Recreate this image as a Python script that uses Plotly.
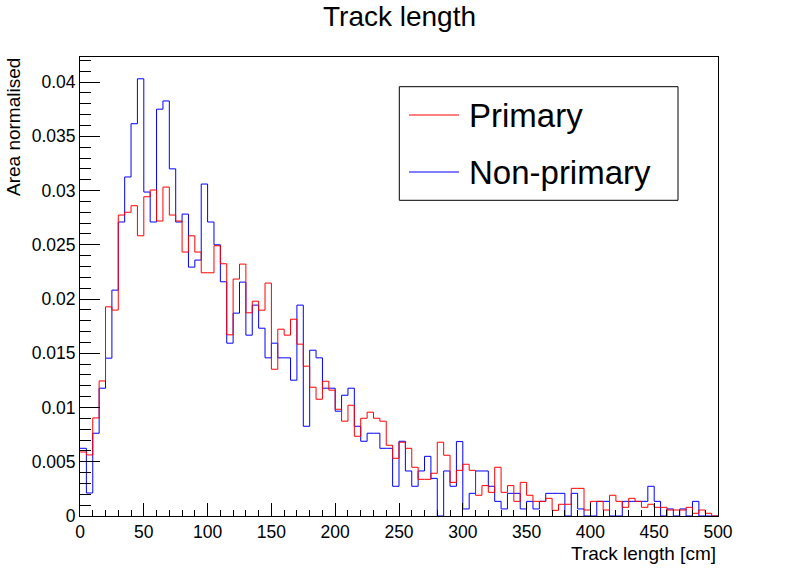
import numpy as np
import plotly.graph_objects as go

# 100 bins of 5 cm between 0 and 500 cm
bin_edges = list(range(0, 505, 5))

primary = [
    0.0059, 0.00563, 0.00904, 0.01245, 0.01928, 0.01898, 0.02774, 0.0280, 0.0286, 0.02583,
    0.02943, 0.03005, 0.02719, 0.03032, 0.02774, 0.02719, 0.02433, 0.02583, 0.02433, 0.02242,
    0.02242, 0.02491, 0.02325, 0.0167, 0.02184, 0.02322, 0.01873, 0.0198, 0.01897, 0.02147,
    0.01353, 0.01722, 0.01667, 0.01814, 0.01584, 0.01381, 0.01187, 0.01076, 0.01242, 0.0116,
    0.00984, 0.00874, 0.01021, 0.00735, 0.00901, 0.00957, 0.00901, 0.00874, 0.00652, 0.00532,
    0.0068, 0.00624, 0.00449, 0.00338, 0.00338, 0.00394, 0.0068, 0.0056, 0.0031, 0.00421,
    0.00477, 0.00421, 0.00191, 0.0028, 0.00218, 0.00449, 0.00218, 0.0028, 0.00135, 0.0031,
    0.00191, 0.00135, 0.00135, 0.00163, 0.00052, 0.00108, 0.00108, 0.00255, 0.00255, 0.00055,
    0.00135, 0.00135, 0.00055, 0.00191, 0.00135, 0.0008, 0.00163, 0.00135, 0.0008, 0.00108,
    0.0008, 0.0008, 0.00055, 0.00055, 0.00055, 0.0008, 0.00025, 0.00055, 0.00025, 0.0,
]

non_primary = [
    0.00624, 0.00212, 0.00763, 0.01178, 0.01455, 0.02082, 0.0271, 0.03125, 0.03616, 0.0403,
    0.02986, 0.0271, 0.0375, 0.03826, 0.0320, 0.0271, 0.02783, 0.02294, 0.02359, 0.0306,
    0.0271, 0.0250, 0.02159, 0.01593, 0.0187, 0.02156, 0.01667, 0.01944, 0.01731, 0.01458,
    0.01593, 0.01458, 0.01458, 0.01252, 0.01944, 0.00827, 0.01528, 0.01458, 0.01178, 0.01178,
    0.00966, 0.01113, 0.01178, 0.00827, 0.00689, 0.00763, 0.00763, 0.00624, 0.00624, 0.00274,
    0.00689, 0.00415, 0.00274, 0.00415, 0.0055, 0.00347, 0.0, 0.00415, 0.00274, 0.00686,
    0.00065, 0.00209, 0.00415, 0.00415, 0.00274, 0.00135, 0.00065, 0.00209, 0.00209, 0.00065,
    0.00135, 0.00065, 0.00135, 0.00209, 0.00209, 0.00209, 0.0, 0.00209, 0.00065, 0.0,
    0.0, 0.00135, 0.00135, 0.0, 0.0, 0.00135, 0.00135, 0.00135, 0.00135, 0.00274,
    0.00135, 0.0, 0.00065, 0.0, 0.00065, 0.0, 0.00135, 0.0, 0.0, 0.0,
]

series_names = ["Primary", "Non-primary"]
series_colors = ["#ff0000", "#0000ff"]

W, H = 798, 574
L, R, T, B = 80, 718, 57, 516  # frame in pixels
FONT = "Liberation Sans, Arial, Helvetica, sans-serif"


def px_x(p):
    return (p - L) / (R - L)


def px_y(p):
    return (B - p) / (B - T)


def step_trace(values, color):
    # outline histogram: value held over each bin, last value repeated at upper edge
    y = list(values) + [values[-1]]
    return go.Scatter(
        x=bin_edges, y=y, mode="lines", line=dict(color=color, width=1, shape="hv"),
        showlegend=False, hoverinfo="skip",
    )


fig = go.Figure()
fig.add_trace(step_trace(non_primary, series_colors[1]))
fig.add_trace(step_trace(primary, series_colors[0]))

axis_common = dict(
    showline=True, linecolor="black", linewidth=1, mirror=True,
    showgrid=False, zeroline=False, ticks="inside", tickcolor="black",
    tickfont=dict(family=FONT, size=17.5, color="black"),
)
fig.update_xaxes(
    range=[0, 500], tick0=0, dtick=50, ticklen=13,
    minor=dict(dtick=10, ticks="inside", ticklen=6.5, tickcolor="black", showgrid=False),
    **axis_common,
)
fig.update_yaxes(
    range=[0, 0.04231], tick0=0, dtick=0.005, ticklen=20,
    minor=dict(dtick=0.001, ticks="inside", ticklen=11, tickcolor="black", showgrid=False),
    **axis_common,
)

# legend drawn by hand to match the boxed ROOT legend
shapes = [
    dict(type="rect", xref="paper", yref="paper",
         x0=px_x(399.3), x1=px_x(678), y0=px_y(200.3), y1=px_y(86.7),
         line=dict(color="black", width=1), fillcolor="white", layer="above"),
]
annotations = []
for name, color, ly in zip(series_names, series_colors, [115, 172]):
    shapes.append(dict(type="line", xref="paper", yref="paper",
                       x0=px_x(409), x1=px_x(459), y0=px_y(ly), y1=px_y(ly),
                       line=dict(color=color, width=1), layer="above"))
    annotations.append(dict(text=name, xref="paper", yref="paper", x=px_x(467), y=px_y(ly),
                            xanchor="left", yanchor="middle", showarrow=False,
                            font=dict(family=FONT, size=33, color="black")))

annotations += [
    dict(text="Track length", xref="paper", yref="paper", x=px_x(399), y=px_y(17),
         xanchor="center", yanchor="middle", showarrow=False,
         font=dict(family=FONT, size=28, color="black")),
    dict(text="Track length [cm]", xref="paper", yref="paper", x=1, y=px_y(553),
         xanchor="right", yanchor="middle", showarrow=False,
         font=dict(family=FONT, size=19, color="black")),
    dict(text="Area normalised", xref="paper", yref="paper", x=px_x(13), y=px_y(56),
         xanchor="center", yanchor="top", textangle=-90, showarrow=False,
         font=dict(family=FONT, size=19, color="black")),
]

fig.update_layout(
    width=W, height=H,
    margin=dict(l=L, r=W - R, t=T, b=H - B, pad=0),
    paper_bgcolor="white", plot_bgcolor="white",
    shapes=shapes, annotations=annotations, showlegend=False,
)

# drop the default page margin so the figure sits at the window's top-left corner
fig.write_html("out.html", config={"displayModeBar": False},
               post_script="document.body.style.margin='0';")
